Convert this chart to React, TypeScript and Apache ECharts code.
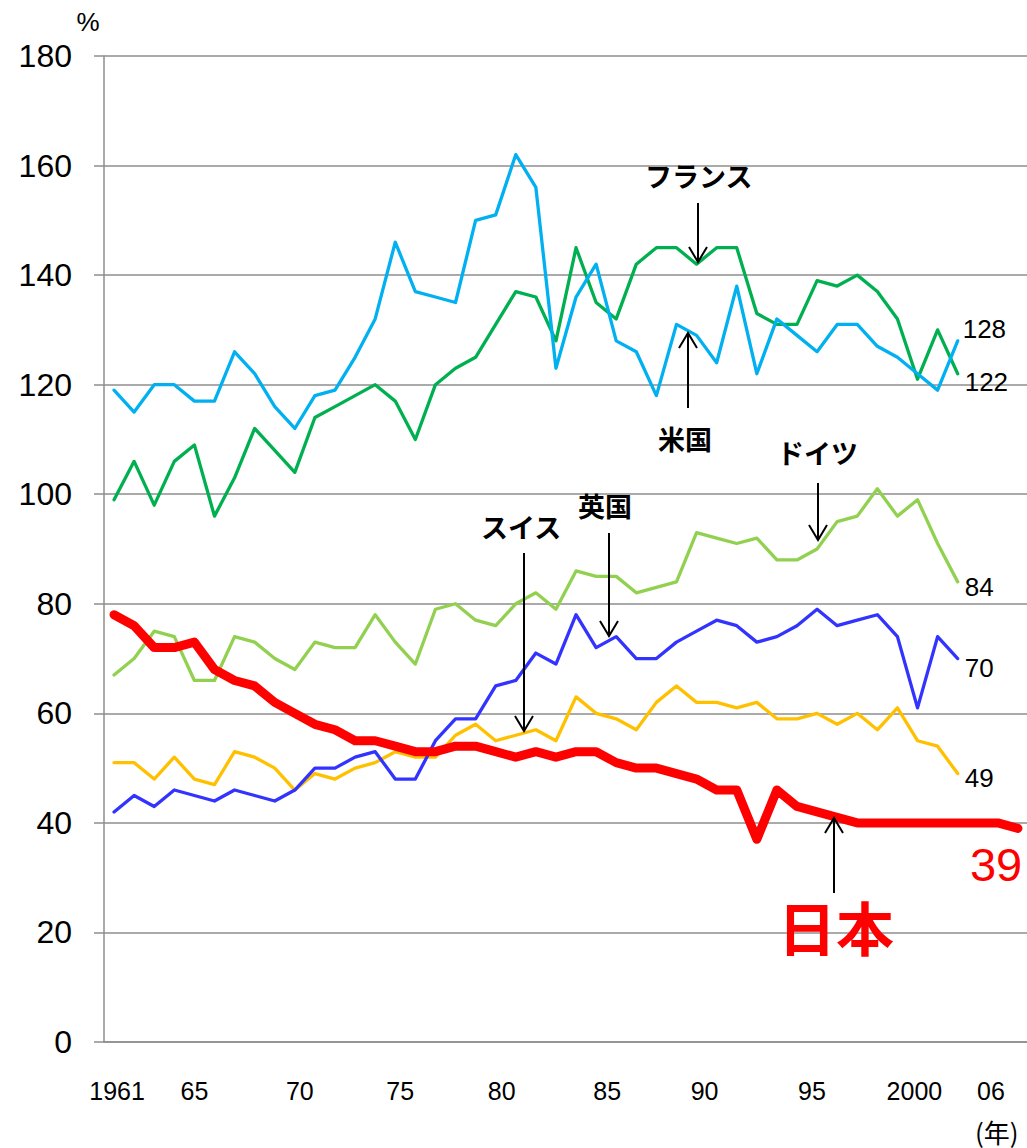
import React, { useEffect, useRef } from "react";
import * as echarts from "echarts";

const years = [
  "1961","1962","1963","1964","1965","1966","1967","1968","1969","1970",
  "1971","1972","1973","1974","1975","1976","1977","1978","1979","1980",
  "1981","1982","1983","1984","1985","1986","1987","1988","1989","1990",
  "1991","1992","1993","1994","1995","1996","1997","1998","1999","2000",
  "2001","2002","2003","2004","2005","2006",
];

const japan = [
  78,76,72,72,73,68,66,65,62,60,
  58,57,55,55,54,53,53,54,54,53,
  52,53,52,53,53,51,50,50,49,48,
  46,46,37,46,43,42,41,40,40,40,
  40,40,40,40,40,39,
];
const usa = [
  119,115,120,120,117,117,126,122,116,112,
  118,119,125,132,146,137,136,135,150,151,
  162,156,123,136,142,128,126,118,131,129,
  124,138,122,132,129,126,131,131,127,125,
  122,119,128,
];
const france = [
  99,106,98,106,109,96,103,112,108,104,
  114,116,118,120,117,110,120,123,125,131,
  137,136,128,145,135,132,142,145,145,142,
  145,145,133,131,131,139,138,140,137,132,
  121,130,122,
];
const germany = [
  67,70,75,74,66,66,74,73,70,68,
  73,72,72,78,73,69,79,80,77,76,
  80,82,79,86,85,85,82,83,84,93,
  92,91,92,88,88,90,95,96,101,96,
  99,91,84,
];
const uk = [
  42,45,43,46,45,44,46,45,44,46,
  50,50,52,53,48,48,55,59,59,65,
  66,71,69,78,72,74,70,70,73,75,
  77,76,73,74,76,79,76,77,78,74,
  61,74,70,
];
const swiss = [
  51,51,48,52,48,47,53,52,50,46,
  49,48,50,51,53,52,52,56,58,55,
  56,57,55,63,60,59,57,62,65,62,
  62,61,62,59,59,60,58,60,57,61,
  55,54,49,
];

// x-axis tick labels (category -> shown text)
const tickYears = ["1961","1965","1970","1975","1980","1985","1990","1995","2000","2006"];
const tickTexts = ["1961","65","70","75","80","85","90","95","2000","06"];
const tickStyles = ["t3","t0","t5","t5","t6","t11","t8","t15","t17","tm27"];

const NUM_FONT = "'Liberation Sans', Arial, sans-serif";
const JP_FONT = "'Noto Sans CJK JP', 'Liberation Sans', sans-serif";

function shift(px: number) {
  // shifting a centered label by px via asymmetric padding
  return px >= 0 ? { padding: [0, 0, 0, px * 2] } : { padding: [0, -px * 2, 0, 0] };
}

function arrow(x: number, y1: number, tipY: number) {
  const dir = tipY > y1 ? -1 : 1;
  return [
    { type: "line", shape: { x1: x, y1, x2: x, y2: tipY }, style: { stroke: "#000", lineWidth: 2 }, z: 100 },
    {
      type: "polyline",
      shape: { points: [[x - 9, tipY + dir * 15], [x, tipY], [x + 9, tipY + dir * 15]] },
      style: { stroke: "#000", lineWidth: 2, fill: null },
      z: 100,
    },
  ];
}

function jpLabel(text: string, x: number, y: number, size = 27, color = "#000") {
  return {
    type: "text",
    x,
    y,
    z: 100,
    style: {
      text,
      fill: color,
      font: `bold ${size}px ${JP_FONT}`,
      align: "left",
      verticalAlign: "middle",
    },
  };
}

export default function App() {
  const ref = useRef<HTMLDivElement>(null);
  useEffect(() => {
    document.body.style.margin = "0";
    const chart = echarts.init(ref.current!, null, { renderer: "svg" });
    const endLabel = (color: string, offset: number[], size = 26, distance = 7) => ({
      show: true,
      formatter: (p: any) => String(p.value),
      color,
      fontSize: size,
      fontFamily: NUM_FONT,
      distance,
      offset,
    });
    const line = (name: string, data: number[], color: string, width: number, offset: number[], labelColor = "#000", size = 26, z = 2) => ({
      name,
      type: "line",
      data,
      symbol: "none",
      z,
      lineStyle: { color, width, cap: "round", join: "round" },
      itemStyle: { color },
      endLabel: endLabel(labelColor, offset, size),
    });
    const rich: any = {};
    [0, 3, 5, 6, 8, 11, 15, 17].forEach((v) => {
      rich["t" + v] = { ...shift(v), fontSize: 25, fontFamily: NUM_FONT, color: "#000" };
    });
    rich["tm27"] = { ...shift(-27), fontSize: 25, fontFamily: NUM_FONT, color: "#000" };

    chart.setOption({
      animation: false,
      backgroundColor: "#fff",
      grid: { left: 104, top: 56, width: 924, height: 986, containLabel: false, outerBoundsMode: "none" },
      xAxis: {
        type: "category",
        data: years,
        boundaryGap: true,
        axisLine: { lineStyle: { color: "#8e8e8e", width: 1.5 } },
        axisTick: { show: false },
        axisLabel: {
          interval: (i: number, v: string) => tickYears.indexOf(v) >= 0,
          formatter: (v: string) => {
            const k = tickYears.indexOf(v);
            return k >= 0 ? `{${tickStyles[k]}|${tickTexts[k]}}` : "";
          },
          rich,
          margin: 36,
          lineHeight: 26,
        },
      },
      yAxis: {
        type: "value",
        min: 0,
        max: 180,
        interval: 20,
        axisLine: { show: true, lineStyle: { color: "#8e8e8e", width: 1.5 } },
        axisTick: { show: true, length: 10, inside: false, lineStyle: { color: "#8e8e8e", width: 1.5 } },
        splitLine: { show: true, lineStyle: { color: "#8e8e8e", width: 1.5 } },
        axisLabel: { fontSize: 32, fontFamily: NUM_FONT, color: "#000", margin: 32 },
      },
      series: [
        line("フランス", france, "#00B050", 3.3, [0, 8], "#000", 26, 2),
        line("米国", usa, "#00B0F0", 3.3, [-2, -12], "#000", 26, 3),
        line("ドイツ", germany, "#92D050", 3.3, [0, 5], "#000", 26, 4),
        line("スイス", swiss, "#FFC000", 3.3, [0, 4], "#000", 26, 5),
        line("英国", uk, "#3333FF", 3.3, [0, 9], "#000", 26, 6),
        line("日本", japan, "#FF0000", 9, [-55, 36], "#FF0000", 47, 10),
      ],
      graphic: [
        { type: "text", x: 88, y: 22, z: 100, style: { text: "%", fill: "#000", font: `26px ${NUM_FONT}`, align: "center", verticalAlign: "middle" } },
        { type: "text", x: 975, y: 1131, z: 100, style: { text: "(年)", fill: "#000", font: `26px ${JP_FONT}`, align: "left", verticalAlign: "middle" } },
        jpLabel("フランス", 645, 175),
        ...arrow(698, 203, 262),
        jpLabel("米国", 658, 438),
        ...arrow(688, 408, 333),
        jpLabel("ドイツ", 777, 452),
        ...arrow(818, 483, 540),
        jpLabel("英国", 578, 505),
        ...arrow(609, 533, 636),
        jpLabel("スイス", 481, 526),
        ...arrow(524, 553, 731),
        jpLabel("日本", 778, 926, 58, "#FF0000"),
        ...arrow(834, 893, 818),
      ],
    });
    return () => chart.dispose();
  }, []);
  return <div ref={ref} style={{ width: 1027, height: 1148 }} />;
}
